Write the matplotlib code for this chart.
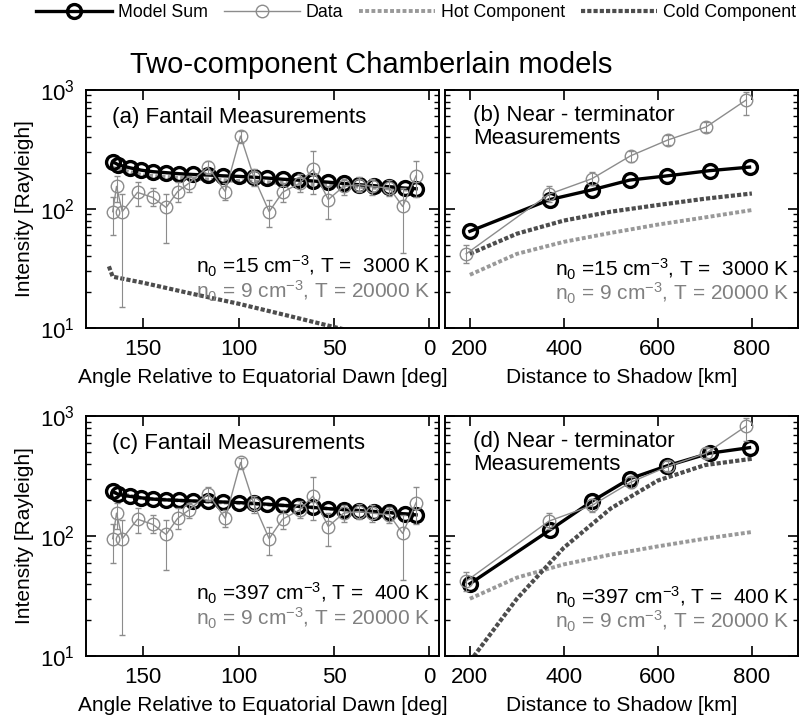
import matplotlib
matplotlib.use('Agg')
import matplotlib.pyplot as plt
from matplotlib.lines import Line2D

plt.rcParams['font.family'] = ['Liberation Sans', 'DejaVu Sans']
plt.rcParams['mathtext.fontset'] = 'custom'
plt.rcParams['mathtext.rm'] = 'Liberation Sans'
plt.rcParams['mathtext.it'] = 'Liberation Sans:italic'
plt.rcParams['mathtext.bf'] = 'Liberation Sans:bold'

# fantail panels (a), (c): angle relative to equatorial dawn [deg]
angModel = [166, 163, 157, 151, 145, 138, 131, 124, 116, 108, 100, 92, 85,
            77, 69, 61, 53, 45, 37, 29, 21, 13, 7]
sumA = [250, 235, 222, 212, 206, 202, 198, 195, 193, 190, 188, 185, 182,
        178, 175, 172, 168, 164, 160, 157, 154, 150, 148]
sumC = [235, 222, 214, 208, 203, 200, 198, 196, 194, 192, 190, 187, 184,
        180, 177, 173, 169, 166, 163, 160, 157, 153, 150]
angHot = [166, 150, 125, 100, 75, 50, 25, 7]
hotA = [222, 192, 180, 172, 165, 158, 150, 144]
hotC = [232, 206, 195, 188, 179, 168, 158, 150]
angCold = [168, 166, 150, 125, 100, 75, 50, 25, 5]
coldA = [33, 27, 24, 19.5, 16, 12.8, 10.2, 8.2, 6.8]
angData = [166, 164, 161, 153, 145, 138, 132, 126, 116, 107, 99, 92, 84,
           77, 68, 61, 53, 45, 37, 30, 21, 14, 7]
dataFan = [95, 155, 95, 138, 125, 103, 140, 165, 225, 140, 410, 185, 95,
           138, 165, 215, 120, 155, 160, 155, 150, 105, 190]
dataFanLo = [60, 115, 15, 105, 105, 52, 115, 140, 195, 118, 360, 155, 70,
             115, 140, 135, 82, 132, 138, 132, 128, 43, 125]
dataFanHi = [125, 190, 135, 170, 150, 135, 170, 190, 255, 165, 450, 215,
             120, 165, 195, 310, 155, 180, 185, 180, 175, 150, 255]

# near-terminator panels (b), (d): distance to shadow [km]
distModel = [200, 370, 460, 540, 620, 710, 795]
sumB = [65, 120, 145, 175, 190, 210, 225]
sumD = [40, 112, 195, 300, 385, 490, 545]
distData = [192, 368, 460, 542, 621, 703, 787]
dataTerm = [42, 133, 180, 280, 380, 490, 820]
dataTermLo = [35, 115, 158, 250, 345, 445, 620]
dataTermHi = [50, 155, 205, 310, 420, 540, 960]
distComp = [200, 300, 400, 500, 600, 700, 800]
coldB = [42, 62, 80, 95, 108, 122, 135]
hotB = [28, 42, 53, 63, 74, 85, 98]
coldD = [9, 30, 80, 170, 290, 390, 440]
hotD = [30, 45, 58, 70, 82, 95, 108]

panelLabels = ['(a) Fantail Measurements', '(b) Near - terminator\nMeasurements',
               '(c) Fantail Measurements', '(d) Near - terminator\nMeasurements']
coldLabels = [r'n$_0$ =15 cm$^{-3}$, T =  3000 K',
              r'n$_0$ =397 cm$^{-3}$, T =  400 K']
hotLabel = r'n$_0$ = 9 cm$^{-3}$, T = 20000 K'

sumStyle = dict(color='k', lw=2.4, marker='o', ms=10, mfc='none', mew=2.4)
dataColor = '0.55'
hotStyle = dict(color='0.6', lw=2.8, ls=(0, (1, 0.6)))
coldStyle = dict(color='0.3', lw=3.0, ls=(0, (1, 0.5)))


def styleAxis(ax, showY):
    ax.set_yscale('log')
    ax.set_ylim(10, 1000)
    ax.tick_params(which='both', direction='in', top=True, right=True,
                   labelsize=16, pad=8)
    ax.tick_params(which='major', length=7, width=1.2)
    ax.tick_params(which='minor', length=3.5, width=1.0)
    for s in ax.spines.values():
        s.set_linewidth(1.4)
    if showY:
        ax.set_ylabel('Intensity [Rayleigh]', fontsize=15, labelpad=4)
    else:
        ax.set_yticklabels([], minor=False)
        ax.set_yticklabels([], minor=True)


def drawData(ax, x, y, lo, hi):
    yerr = [[v - l for v, l in zip(y, lo)], [h - v for v, h in zip(y, hi)]]
    ax.errorbar(x, y, yerr=yerr, fmt='-o', color=dataColor, ms=9, mfc='none',
                mew=1.0, lw=1.0, elinewidth=0.8, capsize=2.5, zorder=4)


def fantail(ax, modelSum, hot, cold, label, coldText):
    ax.plot(angHot, hot, zorder=2, **hotStyle)
    if cold is not None:
        ax.plot(angCold, cold, zorder=2, **coldStyle)
    ax.plot(angModel, modelSum, zorder=3, **sumStyle)
    drawData(ax, angData, dataFan, dataFanLo, dataFanHi)
    ax.set_xlim(180, -5)
    ax.set_xticks([150, 100, 50, 0])
    ax.set_xlabel('Angle Relative to Equatorial Dawn [deg]', fontsize=15,
                  labelpad=6)
    ax.text(0.074, 0.885, label, transform=ax.transAxes, fontsize=16,
            va='center', ha='left')
    ax.text(0.975, 0.26, coldText, transform=ax.transAxes, fontsize=15,
            ha='right', va='center', color='k')
    ax.text(0.975, 0.155, hotLabel, transform=ax.transAxes, fontsize=15,
            ha='right', va='center', color='0.5')


def terminator(ax, modelSum, hot, cold, label, coldText):
    ax.plot(distComp, hot, zorder=2, **hotStyle)
    ax.plot(distComp, cold, zorder=2, **coldStyle)
    ax.plot(distModel, modelSum, zorder=3, **sumStyle)
    drawData(ax, distData, dataTerm, dataTermLo, dataTermHi)
    ax.set_xlim(147, 898)
    ax.set_xticks([200, 400, 600, 800])
    ax.set_xlabel('Distance to Shadow [km]', fontsize=15, labelpad=6)
    ax.text(0.08, 0.845, label, transform=ax.transAxes, fontsize=16,
            va='center', ha='left', linespacing=1.15)
    ax.text(0.977, 0.245, coldText, transform=ax.transAxes, fontsize=15,
            ha='right', va='center', color='k')
    ax.text(0.977, 0.145, hotLabel, transform=ax.transAxes, fontsize=15,
            ha='right', va='center', color='0.5')


fig = plt.figure(figsize=(8.12, 7.2), dpi=100)
axA = fig.add_axes([0.1059, 0.5444, 0.4347, 0.3306])
axB = fig.add_axes([0.548, 0.5444, 0.4347, 0.3306])
axC = fig.add_axes([0.1059, 0.0889, 0.4347, 0.3333])
axD = fig.add_axes([0.548, 0.0889, 0.4347, 0.3333])

fantail(axA, sumA, hotA, coldA, panelLabels[0], coldLabels[0])
terminator(axB, sumB, hotB, coldB, panelLabels[1], coldLabels[0])
fantail(axC, sumC, hotC, None, panelLabels[2], coldLabels[1])
terminator(axD, sumD, hotD, coldD, panelLabels[3], coldLabels[1])

styleAxis(axA, True)
styleAxis(axB, False)
styleAxis(axC, True)
styleAxis(axD, False)

fig.text(0.457, 0.899, 'Two-component Chamberlain models', fontsize=21,
         ha='center', va='baseline')

# legend row on top
handles = [Line2D([], [], **sumStyle),
           Line2D([], [], color=dataColor, lw=1.0, marker='o', ms=9,
                  mfc='none', mew=1.0),
           Line2D([], [], **hotStyle),
           Line2D([], [], **coldStyle)]
names = ['Model Sum', 'Data', 'Hot Component', 'Cold Component']
fig.legend(handles, names, loc='center', bbox_to_anchor=(0.512, 0.983),
           ncol=4, frameon=False, fontsize=12.8, handlelength=4.3,
           handletextpad=0.3, columnspacing=0.9, borderpad=0.1)

fig.savefig('out.png', dpi=100)
